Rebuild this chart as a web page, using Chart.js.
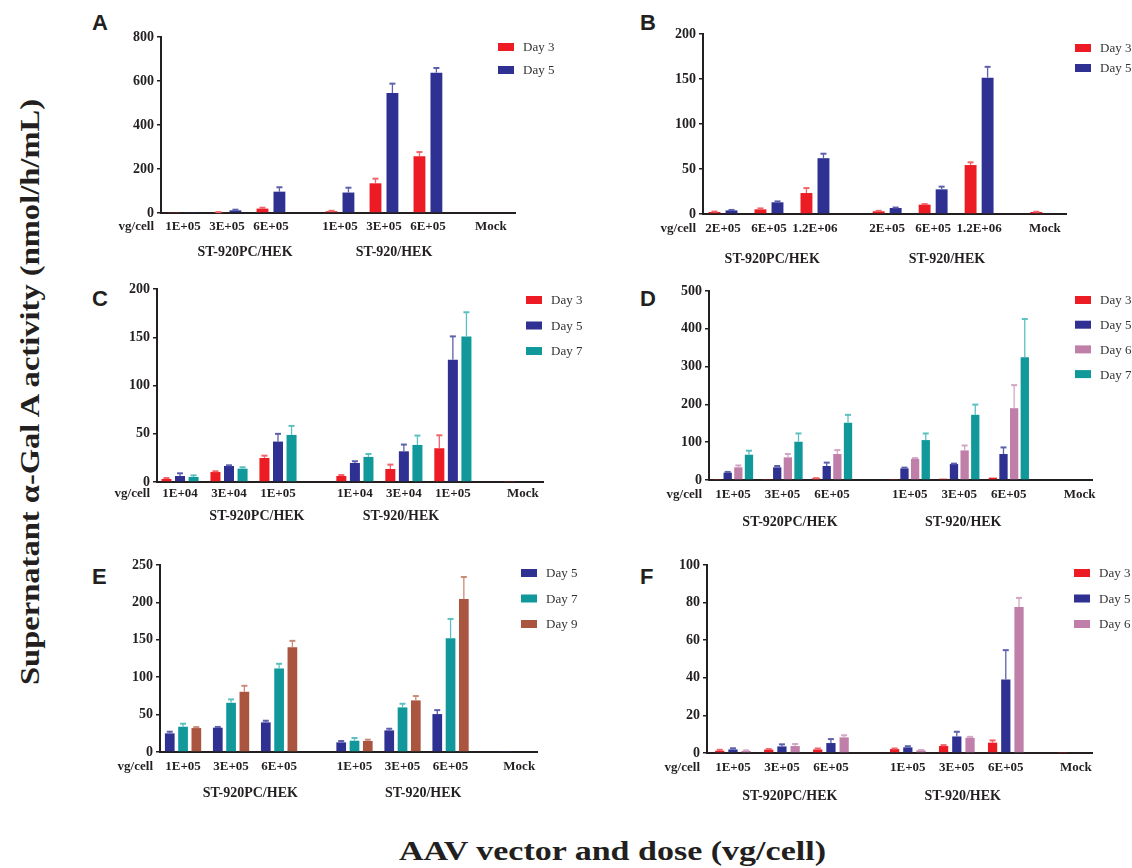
<!DOCTYPE html>
<html>
<head>
<meta charset="utf-8">
<script src="https://cdn.jsdelivr.net/npm/chart.js@4.4.1/dist/chart.umd.min.js"></script>
<style>
  body { margin: 0; background: #fff; }
  #wrap { position: relative; width: 1132px; height: 868px; overflow: hidden; }
  #wrap canvas { position: absolute; left: 0; top: 0; }
  .letter { position: absolute; font: bold 22px 'Liberation Sans', Arial, sans-serif; color: #231f20; line-height: 22px; }
  .title { position: absolute; font: bold 27px 'Liberation Serif', 'Times New Roman', serif; color: #231f20; white-space: nowrap; line-height: 30px; transform-origin: center center; }
</style>
</head>
<body>
<div id="wrap">
  <div class="letter" style="left:92px;top:12px">A</div>
  <div class="letter" style="left:640px;top:12px">B</div>
  <div class="letter" style="left:92px;top:288px">C</div>
  <div class="letter" style="left:640px;top:288px">D</div>
  <div class="letter" style="left:92px;top:566px">E</div>
  <div class="letter" style="left:640px;top:566px">F</div>
  <div id="ytitle" class="title">Supernatant α-Gal A activity (nmol/h/mL)</div>
  <div id="xtitle" class="title">AAV vector and dose (vg/cell)</div>
</div>
<script>
const W = 1132, H = 868;
const Y_W = 50, X_H = 40;

const RED = '#ed1c24', BLUE = '#2e3192', TEAL = '#10989a', PINK = '#c07fa9', BROWN = '#a9553f';
const ERR = { [RED]: '#f0646a', [BLUE]: '#5d60ad', [TEAL]: '#5cc0c0', [PINK]: '#d3a6c4', [BROWN]: '#c98a79' };

// x positions of the seven dose slots (two groups + Mock)
const xPos = [0, 1, 2, 3.57, 4.57, 5.57, 7.0];
const groupNames = ['ST-920PC/HEK', 'ST-920/HEK'];

// A
const dosesA = ['1E+05', '3E+05', '6E+05', '1E+05', '3E+05', '6E+05', 'Mock'];
const aDay3 = [0.5, 3, 20, 8, 135, 258, null];
const aDay3Err = [0, 1, 4, 2, 21, 19, 0];
const aDay5 = [2, 12, 97, 93, 545, 638, null];
const aDay5Err = [0, 3, 20, 22, 43, 21, 0];

// B
const dosesB = ['2E+05', '6E+05', '1.2E+06', '2E+05', '6E+05', '1.2E+06', 'Mock'];
const bDay3 = [2.2, 5.2, 23.3, 3, 10.4, 54.4, 2.2];
const bDay3Err = [0.5, 1, 5.5, 0.5, 0.6, 3, 0.3];
const bDay5 = [4, 13, 62, 6.7, 27.4, 151.5, null];
const bDay5Err = [0.5, 1, 5, 0.5, 3, 12, 0];

// C
const dosesC = ['1E+04', '3E+04', '1E+05', '1E+04', '3E+04', '1E+05', 'Mock'];
const cDay3 = [3.1, 10.4, 24.9, 6.2, 13.5, 35, 0.7];
const cDay3Err = [1, 0.7, 2.4, 1, 4.5, 13.4, 0];
const cDay5 = [6.2, 16.6, 41.9, 19.7, 31.8, 126.6, null];
const cDay5Err = [2.8, 0.7, 8, 1.8, 7, 24.3, 0];
const cDay7 = [5.2, 13.8, 48.8, 26, 38.4, 150.9, null];
const cDay7Err = [1.7, 1.5, 9.3, 3, 9.7, 25, 0];

// D
const dosesD = ['1E+05', '3E+05', '6E+05', '1E+05', '3E+05', '6E+05', 'Mock'];
const dDay3 = [1.8, 2.6, 4.4, 1.8, 3.5, 6.2, null];
const dDay3Err = [0, 0, 0.5, 0, 0, 0, 0];
const dDay5 = [19.4, 33.5, 37, 30.8, 42.3, 68.7, null];
const dDay5Err = [2, 3.5, 9, 2, 1, 17.5, 0];
const dDay6 = [33.5, 59.9, 68.7, 55.5, 78.3, 190, null];
const dDay6Err = [5, 9, 10.5, 2.5, 13, 61, 0];
const dDay7 = [66.9, 101.2, 151.4, 105.6, 172.5, 324.8, null];
const dDay7Err = [10.6, 22, 21, 17.5, 27, 101, 0];

// E
const dosesE = ['1E+05', '3E+05', '6E+05', '1E+05', '3E+05', '6E+05', 'Mock'];
const eDay5 = [24.9, 32.5, 39.6, 12.9, 28.9, 50.7, 0.5];
const eDay5Err = [2.2, 1, 2.2, 1.8, 2.2, 5.3, 0];
const eDay7 = [33.8, 65.8, 111.7, 15.1, 59.6, 152.1, null];
const eDay7Err = [4, 4.5, 6.2, 3.6, 4.9, 25.8, 0];
const eDay9 = [32, 80.5, 140.1, 14.7, 69, 204.6, null];
const eDay9Err = [1.3, 8, 8.5, 1.8, 5.8, 29.4, 0];

// F
const dosesF = ['1E+05', '3E+05', '6E+05', '1E+05', '3E+05', '6E+05', 'Mock'];
const fDay3 = [1.2, 1.8, 1.9, 2.1, 3.7, 5.5, 0.3];
const fDay3Err = [0.5, 0.3, 0.5, 0.3, 0.5, 1.2, 0];
const fDay5 = [1.9, 3.5, 5.3, 3, 8.8, 39.1, null];
const fDay5Err = [0.6, 1.1, 2.1, 0.6, 2.5, 15.6, 0];
const fDay6 = [1.1, 3.7, 8.3, 1.4, 8.1, 77.7, null];
const fDay6Err = [0.3, 1.1, 1.1, 0.2, 0.5, 4.8, 0];

const panels = [
  { area: [161, 37, 515, 213], xMin: -0.5, xMax: 7.55, yMax: 800, yStep: 200, labels: dosesA, tickPad: 6,
    catPct: 0.77, barPct: 0.7, groupAt: [1.41, 4.8], groupY: 252, legend: [498, 47, 23],
    series: [['Day 3', aDay3, aDay3Err, RED], ['Day 5', aDay5, aDay5Err, BLUE]] },
  { area: [703, 34, 1066, 214], xMin: -0.435, xMax: 7.46, yMax: 200, yStep: 50, labels: dosesB, tickPad: 7,
    catPct: 0.74, barPct: 0.7, groupAt: [1.07, 4.87], groupY: 259, legend: [1075, 48, 20],
    series: [['Day 3', bDay3, bDay3Err, RED], ['Day 5', bDay5, bDay5Err, BLUE]] },
  { area: [157, 289, 543, 482], xMin: -0.47, xMax: 7.41, yMax: 200, yStep: 50, labels: dosesC, tickPad: 4,
    catPct: 0.83, barPct: 0.74, groupAt: [1.57, 4.51], groupY: 516, legend: [526, 300, 25.5],
    series: [['Day 3', cDay3, cDay3Err, RED], ['Day 5', cDay5, cDay5Err, BLUE], ['Day 7', cDay7, cDay7Err, TEAL]] },
  { area: [709, 291, 1092, 480], xMin: -0.485, xMax: 7.25, yMax: 500, yStep: 100, labels: dosesD, tickPad: 7,
    catPct: 0.86, barPct: 0.78, groupAt: [1.15, 4.65], groupY: 522, legend: [1075, 300, 24.7],
    series: [['Day 3', dDay3, dDay3Err, RED], ['Day 5', dDay5, dDay5Err, BLUE], ['Day 6', dDay6, dDay6Err, PINK], ['Day 7', dDay7, dDay7Err, TEAL]] },
  { area: [160, 565, 537, 752], xMin: -0.48, xMax: 7.37, yMax: 250, yStep: 50, labels: dosesE, tickPad: 7,
    catPct: 0.83, barPct: 0.73, groupAt: [1.4, 5.0], groupY: 793, legend: [521, 573, 25.5],
    series: [['Day 5', eDay5, eDay5Err, BLUE], ['Day 7', eDay7, eDay7Err, TEAL], ['Day 9', eDay9, eDay9Err, BROWN]] },
  { area: [707, 565, 1092, 753], xMin: -0.53, xMax: 7.33, yMax: 100, yStep: 20, labels: dosesF, tickPad: 7,
    catPct: 0.81, barPct: 0.7, groupAt: [1.16, 4.69], groupY: 796, legend: [1074, 573, 25.5],
    series: [['Day 3', fDay3, fDay3Err, RED], ['Day 5', fDay5, fDay5Err, BLUE], ['Day 6', fDay6, fDay6Err, PINK]] },
];

const SERIF = "'Liberation Serif', 'Times New Roman', serif";
const INK = '#231f20';

// vertical error bars with a small cap, drawn from each bar's top
const errorBars = {
  id: 'errorBars',
  afterDatasetsDraw(chart) {
    const ctx = chart.ctx, yScale = chart.scales.y;
    chart.data.datasets.forEach((ds, i) => {
      const meta = chart.getDatasetMeta(i);
      ctx.save();
      ctx.strokeStyle = ERR[ds.backgroundColor] || ds.backgroundColor;
      meta.data.forEach((bar, j) => {
        const v = ds.data[j].y, e = ds.errors[j];
        if (v == null || !e) return;
        const top = yScale.getPixelForValue(v + e);
        ctx.lineWidth = 1.3;
        ctx.beginPath();
        ctx.moveTo(bar.x, bar.y);
        ctx.lineTo(bar.x, top);
        ctx.stroke();
        ctx.lineWidth = 2;
        ctx.beginPath();
        ctx.moveTo(bar.x - 3, top);
        ctx.lineTo(bar.x + 3, top);
        ctx.stroke();
      });
      ctx.restore();
    });
  }
};

function panelText(p) {
  return {
    id: 'panelText',
    afterDraw(chart) {
      const ctx = chart.ctx, area = chart.chartArea, xs = chart.scales.x;
      ctx.save();
      ctx.fillStyle = INK;
      ctx.textBaseline = 'middle';
      // vg/cell in front of the dose labels
      ctx.font = 'bold 13px ' + SERIF;
      ctx.textAlign = 'right';
      ctx.fillText('vg/cell', area.left - 7, area.bottom + p.tickPad + 8);
      // group names
      ctx.font = 'bold 14px ' + SERIF;
      ctx.textAlign = 'center';
      p.groupAt.forEach((gx, k) => ctx.fillText(groupNames[k], xs.getPixelForValue(gx), p.groupY));
      // legend
      const [lx, ly, step] = p.legend;
      ctx.textAlign = 'left';
      ctx.font = '13px ' + SERIF;
      chart.data.datasets.forEach((ds, k) => {
        const cy = ly + k * step;
        ctx.fillStyle = ds.backgroundColor;
        ctx.fillRect(lx, cy - 4, 16, 8);
        ctx.fillStyle = '#333';
        ctx.fillText(ds.label, lx + 25, cy + 1);
      });
      ctx.restore();
    }
  };
}

function buildPanel(p) {
  const canvas = document.createElement('canvas');
  canvas.width = W;
  canvas.height = H;
  document.getElementById('wrap').appendChild(canvas);
  const [l, t, r, b] = p.area;
  new Chart(canvas, {
    type: 'bar',
    data: {
      datasets: p.series.map(([label, values, errors, color]) => ({
        label,
        data: xPos.map((x, i) => ({ x, y: values[i] })),
        errors,
        backgroundColor: color,
        borderWidth: 0,
        minBarLength: 1,
        categoryPercentage: p.catPct,
        barPercentage: p.barPct,
      })),
    },
    options: {
      responsive: false,
      animation: false,
      layout: { padding: { left: l - Y_W, top: t, right: W - r, bottom: H - b - X_H } },
      plugins: { legend: { display: false }, tooltip: { enabled: false } },
      scales: {
        x: {
          type: 'linear',
          min: p.xMin,
          max: p.xMax,
          offset: false,
          grid: { display: false, drawTicks: false },
          border: { display: true, color: INK, width: 2 },
          afterBuildTicks: s => { s.ticks = xPos.map(v => ({ value: v })); },
          afterFit: s => { s.height = X_H; },
          ticks: {
            autoSkip: false,
            maxRotation: 0,
            padding: p.tickPad,
            color: INK,
            font: { family: SERIF, size: 13, weight: 'bold' },
            callback: (v, i) => p.labels[i],
          },
        },
        y: {
          min: 0,
          max: p.yMax,
          afterFit: s => { s.width = Y_W; },
          grid: { display: true, drawOnChartArea: false, drawTicks: true, tickLength: 4, color: INK, lineWidth: 1.5 },
          border: { display: true, color: INK, width: 2 },
          ticks: {
            stepSize: p.yStep,
            padding: 3,
            color: INK,
            font: { family: SERIF, size: 14, weight: 'bold' },
          },
        },
      },
    },
    plugins: [errorBars, panelText(p)],
  });
}

panels.forEach(buildPanel);

// axis titles, stretched along their length like the reference
function placeTitle(id, cx, cy, length, rotate) {
  const el = document.getElementById(id);
  const w = el.offsetWidth, h = el.offsetHeight;
  el.style.left = (cx - w / 2) + 'px';
  el.style.top = (cy - h / 2) + 'px';
  el.style.transform = (rotate ? 'rotate(-90deg) ' : '') + 'scaleX(' + (length / w) + ')';
}
placeTitle('ytitle', 30, 392, 586, true);
placeTitle('xtitle', 612, 851, 427, false);
</script>
</body>
</html>
